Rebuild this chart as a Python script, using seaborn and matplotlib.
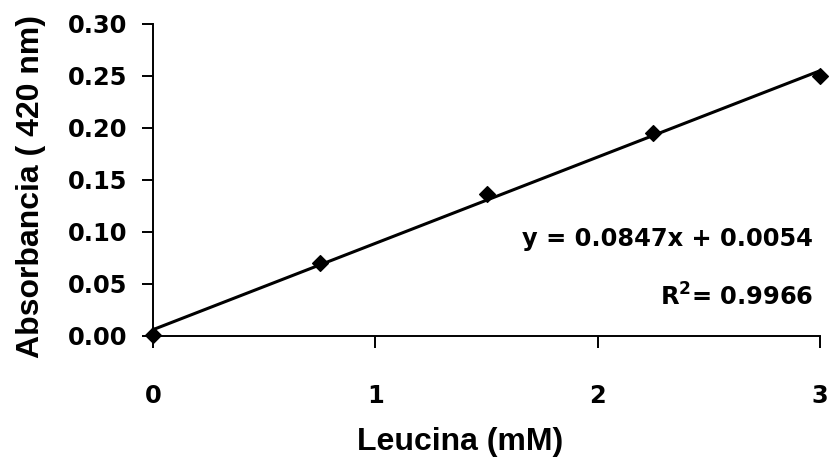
import matplotlib
matplotlib.use("Agg")
import matplotlib.pyplot as plt
import seaborn as sns
import pandas as pd

# Data
leucina_mM = [0.0, 0.75, 1.5, 2.25, 3.0]
absorbancia = [0.001, 0.070, 0.136, 0.195, 0.250]
x_ticks = [0, 1, 2, 3]
y_ticks = [0.00, 0.05, 0.10, 0.15, 0.20, 0.25, 0.30]
eq_text = "y = 0.0847x + 0.0054"
r2_text = "R$^2$= 0.9966"

sns.set_style("ticks")
plt.rcParams['font.family'] = ['Liberation Sans', 'DejaVu Sans']
plt.rcParams['mathtext.fontset'] = 'custom'
plt.rcParams['mathtext.rm'] = 'DejaVu Sans:bold'
plt.rcParams['mathtext.bf'] = 'DejaVu Sans:bold'
for k in ["text.color", "axes.labelcolor", "xtick.color", "ytick.color", "axes.edgecolor"]:
    plt.rcParams[k] = "black"

df = pd.DataFrame({"x": leucina_mM, "y": absorbancia})

fig = plt.figure(figsize=(8.3, 4.61), dpi=100)
ax = fig.add_axes([0.1843, 0.2718, 0.988 - 0.1843, 0.948 - 0.2718])

sns.regplot(data=df, x="x", y="y", ax=ax, ci=None, color="black",
            marker="D",
            scatter_kws={"s": 64, "clip_on": False, "zorder": 4,
                         "edgecolor": "black", "facecolor": "black", "alpha": 1},
            line_kws={"lw": 2.2, "clip_on": False, "color": "black"})

ax.set_xlim(0, 3)
ax.set_ylim(0, 0.30)
ax.set_xticks(x_ticks)
ax.set_yticks(y_ticks)
ax.set_xticklabels([str(t) for t in x_ticks])
ax.set_yticklabels([f"{t:.2f}" for t in y_ticks])

for s in ["top", "right"]:
    ax.spines[s].set_visible(False)
for s in ["left", "bottom"]:
    ax.spines[s].set_linewidth(1.4)
    ax.spines[s].set_color("black")

tick_font = {"family": "DejaVu Sans", "weight": "bold", "size": 17.4}
ax.tick_params(axis="x", direction="out", length=8.5, width=1.4, pad=26,
               colors="black")
ax.tick_params(axis="y", direction="out", length=7.7, width=1.4, pad=11,
               colors="black")
for lab in ax.get_xticklabels() + ax.get_yticklabels():
    lab.set_fontfamily(tick_font["family"])
    lab.set_fontweight(tick_font["weight"])
    lab.set_fontsize(tick_font["size"])

ax.set_xlabel("Leucina (mM)", fontsize=23, fontweight="bold")
ax.set_ylabel("Absorbancia ( 420 nm)", fontsize=23, fontweight="bold")
ax.xaxis.set_label_coords(0.460, -0.293)
ax.yaxis.set_label_coords(-0.160, 0.479)

ax.text(2.968, 0.0935, eq_text, ha="right", va="center", fontsize=17.4,
        fontweight="bold", family="DejaVu Sans", transform=ax.transData)
ax.text(2.968, 0.0377, r2_text, ha="right", va="center", fontsize=17.4,
        fontweight="bold", family="DejaVu Sans", transform=ax.transData)

fig.savefig("out.png", dpi=100)
